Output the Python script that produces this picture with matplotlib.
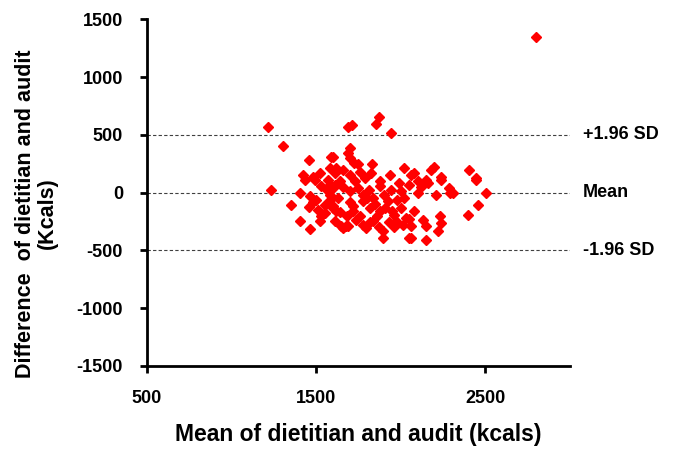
import matplotlib
matplotlib.use("Agg")
import matplotlib.pyplot as plt
import matplotlib.transforms as mtransforms

# mean of dietitian and audit (kcals) / difference (kcals)
mean_kcal = [1215, 1305, 1233, 2800, 1871, 1855, 1688, 1714, 1944,
             1458, 1423, 1482, 1521, 1590, 1580,
             1698, 1688, 1600, 1722, 1832, 1620, 1659, 1757, 1826, 1934, 2022, 2062, 1610,
             2199, 2238, 2405, 2445, 2081, 2150,
             1403, 1354, 1462, 1458, 1403, 1462, 1531, 1551, 1521, 1551, 1580, 1580,
             1433, 1492, 1570, 1598, 1509, 1598,
             1610, 1728, 1875, 1944, 2003, 2051, 1629, 1698, 1777, 1836, 1924, 2003,
             1620, 1717, 1816, 1875, 1963, 2032, 1659, 1678, 1796, 1894, 1894, 2051,
             1737, 1836, 1610, 1777, 1973, 2012,
             2160, 2238, 2287, 2307, 2445, 2100, 2209, 2503, 2454, 2395, 2081, 2130,
             2150, 2238, 2218, 2150, 2062, 2062,
             1649, 1688,
             1640, 1660, 1700, 1720, 1750, 1760, 1790, 1800, 1810, 1850, 1860, 1880,
             1900, 1910, 1930, 1950, 1980, 1990, 1700, 1680, 1580, 1600, 1640, 1560,
             1530, 1500, 1480, 1750, 1700, 1780, 1820, 1870, 1960, 2020, 2050, 2100,
             2120, 2180, 2230, 2290]
diff_kcal = [570, 405, 25, 1347, 657, 594, 566, 586, 514,
             283, 150, 138, 168, 311, 214,
             384, 341, 311, 260, 248, 211, 196, 182, 168, 153, 211, 153, 168,
             225, 138, 196, 125, 168, 110,
             -3, -104, -31, -126, -247, -311, -204, -175, -247, -104, -17, 69,
             112, 112, 112, 40, -147, -132,
             69, 99, 55, 26, 12, 69, -46, 12, -17, -46, -74, -132,
             -161, -161, -132, -161, -190, -219, -305, -291, -305, -334, -392, -392,
             -233, -247, -247, -74, -247, -276,
             84, 112, 40, -3, 112, -3, -17, -3, -104, -190, -161, -233,
             -291, -262, -334, -407, -291, -392,
             -290, -290,
             100, 50, -80, -120, 40, -200, 130, -50, 20, -100, -200, 100,
             -20, -130, -250, -160, -60, 80, 150, -200, -60, -120, -170, 30,
             60, -60, -80, 250, 300, -280, -250, -300, -300, -50, -230, 100,
             50, 200, -200, 0]

limit_values = [500, 0, -500]
limit_labels = ["+1.96 SD", "Mean", "-1.96 SD"]

plt.rcParams['font.family'] = ['Liberation Sans', 'DejaVu Sans']
plt.rcParams['font.weight'] = 'bold'
plt.rcParams['axes.unicode_minus'] = False

fig = plt.figure(figsize=(6.73, 4.49), dpi=100)
ax = fig.add_axes([0.218, 0.185, 0.629, 0.772])

for v in limit_values:
    ax.axhline(v, color="#404040", lw=0.8, ls=(0, (3, 2)), zorder=1)

ax.plot(mean_kcal, diff_kcal, "D", color="red", ms=5.2, mec="red", zorder=3,
        clip_on=False)

ax.set_xlim(500, 3000)
ax.set_ylim(-1500, 1500)
ax.set_xticks([500, 1500, 2500])
ax.set_yticks(range(-1500, 1501, 500))

for s in ["top", "right"]:
    ax.spines[s].set_visible(False)
for s in ["left", "bottom"]:
    ax.spines[s].set_linewidth(2)
ax.tick_params(direction="out", width=2, length=5, labelsize=13)
ax.tick_params(axis="y", pad=12)
ax.tick_params(axis="x", pad=12)
for lab in ax.get_xticklabels() + ax.get_yticklabels():
    lab.set_fontweight("bold")

trans = mtransforms.blended_transform_factory(ax.transAxes, ax.transData)
for v, t in zip(limit_values, limit_labels):
    ax.text(1.03, v, t, transform=trans, va="center", ha="left",
            fontsize=13, fontweight="bold")

ax.set_xlabel("Mean of dietitian and audit (kcals)", fontsize=16.5,
              fontweight="bold", labelpad=12)
ax.set_ylabel("Difference  of dietitian and audit\n(Kcals)", fontsize=15.5,
              fontweight="bold", linespacing=1.05)
ax.yaxis.set_label_coords(-0.21, 0.44)

fig.savefig("out.png", dpi=100)
